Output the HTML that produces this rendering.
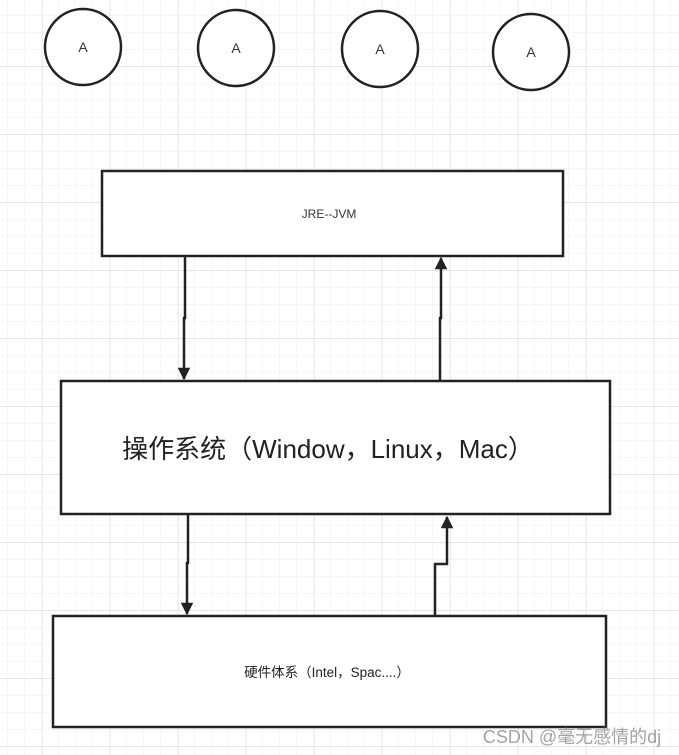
<!DOCTYPE html>
<html><head><meta charset="utf-8"><style>
html,body{margin:0;padding:0;background:#fff;}
svg{display:block;}
</style></head><body>
<svg width="679" height="755" xmlns="http://www.w3.org/2000/svg">
<defs>
<pattern id="g" width="17" height="17" patternUnits="userSpaceOnUse" x="8" y="-1">
<path d="M17 0V17M0 17H17" stroke="#ececec" stroke-width="1" fill="none"/>
</pattern>
<pattern id="G" width="68" height="68" patternUnits="userSpaceOnUse" x="42" y="66">
<path d="M0 0V68M0 0H68" stroke="#dedede" stroke-width="1" fill="none"/>
</pattern>
<marker id="a" viewBox="0 0 10 10" refX="9" refY="5" markerWidth="5.5" markerHeight="5" orient="auto">
<path d="M0 0L10 5L0 10z" fill="#222"/>
</marker>
</defs>
<rect width="679" height="755" fill="#fff"/>
<rect width="679" height="755" fill="url(#g)"/>
<rect width="679" height="755" fill="url(#G)"/>
<g fill="#fff" stroke="#222" stroke-width="2.5">
<circle cx="83" cy="47" r="38"/>
<circle cx="236" cy="48" r="38"/>
<circle cx="380" cy="49" r="38"/>
<circle cx="531" cy="52" r="38"/>
<rect x="102" y="171" width="461" height="85"/>
<rect x="61" y="381" width="549" height="133"/>
<rect x="53" y="616" width="553" height="111"/>
</g>
<g font-family="Liberation Sans, sans-serif" font-size="14" fill="#333" text-anchor="middle">
<text x="83" y="52">A</text>
<text x="236" y="53">A</text>
<text x="380" y="54">A</text>
<text x="531" y="57">A</text>
<text x="329" y="218" font-size="12">JRE--JVM</text>
</g>
<text x="328" y="458" text-anchor="middle" font-family="Liberation Sans, 'Noto Sans CJK SC', sans-serif" font-size="26" fill="#222">操作系统（Window，Linux，Mac）</text>
<text x="327" y="677" text-anchor="middle" font-family="Liberation Sans, 'Noto Sans CJK SC', sans-serif" font-size="13.5" fill="#222">硬件体系（Intel，Spac....）</text>
<g stroke="#222" stroke-width="2.5" fill="none">
<path d="M185 257V318H184V379" marker-end="url(#a)"/>
<path d="M440 380V318H441V258" marker-end="url(#a)"/>
<path d="M188 515V563H187V614" marker-end="url(#a)"/>
<path d="M435 615V564H447V517" marker-end="url(#a)"/>
</g>
<text x="572" y="743" text-anchor="middle" font-family="Liberation Sans, 'Noto Sans CJK SC', sans-serif" font-size="18" fill="#9a9a9a" opacity="0.9">CSDN @毫无感情的dj</text>
</svg>
</body></html>
